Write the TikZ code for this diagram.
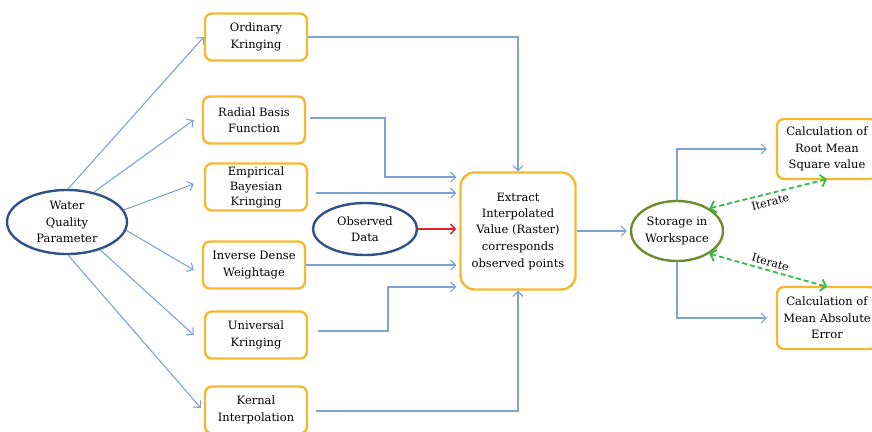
\documentclass[tikz,border=0pt]{standalone}
\usepackage{fontspec}
\setmainfont{DejaVu Serif}
\usepackage{xcolor}
\usepackage{tikz}
\usetikzlibrary{shapes, arrows.meta, positioning, calc}

\definecolor{boxorange}{HTML}{F6B830}
\definecolor{linkblue}{HTML}{7DA3D6}
\definecolor{ovalblue}{HTML}{2F5289}
\definecolor{ovalgreen}{HTML}{6E8B2E}
\definecolor{iterred}{HTML}{E62424}
\definecolor{itergreen}{HTML}{33BB4A}

\begin{document}
\begin{tikzpicture}[x=1pt, y=-1pt,
  box/.style={rectangle, draw=boxorange, line width=2.4pt, rounded corners=7pt, minimum width=102pt, minimum height=47pt, inner sep=0pt, align=center, font=\fontsize{11.5}{16.5}\selectfont},
  oval/.style={ellipse, draw=ovalblue, line width=2.4pt, inner sep=-3pt, align=center, font=\fontsize{11.5}{16.5}\selectfont},
  link/.style={draw=linkblue, line width=1.1pt, -{Straight Barb[length=5pt, width=10pt]}},
  iter/.style={draw=itergreen, line width=1.8pt, dash pattern=on 5pt off 3pt, {Straight Barb[length=5pt, width=12pt]}-{Straight Barb[length=5pt, width=12pt]}}]

\useasboundingbox (0,0) rectangle (872,431);

\node[oval, minimum width=120pt, minimum height=64pt] (water) at (67,222) {Water\\Quality\\Parameter};
\node[oval, minimum width=104pt, minimum height=52pt] (observed) at (365,229) {Observed\\Data};

\node[box] (ordinary) at (256,37) {Ordinary\\Kringing};
\node[box] (radial) at (254,120) {Radial Basis\\Function};
\node[box, font=\fontsize{11.5}{15}\selectfont] (empirical) at (256,187) {Empirical\\Bayesian\\Kringing};
\node[box] (inverse) at (254,265) {Inverse Dense\\Weightage};
\node[box] (universal) at (256,335) {Universal\\Kringing};
\node[box] (kernal) at (256,410) {Kernal\\Interpolation};

\node[box, rounded corners=14pt, minimum width=115pt, minimum height=117pt] (extract) at (518,231) {Extract\\Interpolated\\Value (Raster)\\corresponds\\observed points};
\node[oval, draw=ovalgreen, minimum width=92pt, minimum height=60pt] (storage) at (677,231) {Storage in\\Workspace};

\node[box, minimum width=100pt, minimum height=60pt] (rms) at (827,149) {Calculation of\\Root Mean\\Square value};
\node[box, minimum width=100pt, minimum height=62pt] (mae) at (827,318) {Calculation of\\Mean Absolute\\Error};

\coordinate (radbend) at (385,177);
\coordinate (empout) at (316,193);
\coordinate (unibend) at (388,287);

\draw[link] (water.88) -- (ordinary.west);
\draw[link] (water.48) -- ($(radial.west)+(-8,0)$);
\draw[link] (water.12) -- ($(empirical.west)+(-10,-3)$);
\draw[link] (water.-8) -- ($(inverse.west)+(-8,5)$);
\draw[link] (water.-40) -- ($(universal.west)+(-10,0)$);
\draw[link] (water.-88) -- ($(kernal.west)+(-3,-2)$);

\draw[link] (ordinary.east) -- (ordinary.east -| extract.north) -- (extract.north);
\draw[link, shorten >=3pt] ($(radial.east)+(4,-2)$) -| (radbend) -- (radbend -| extract.west);
\draw[link, shorten >=3pt] (empout) -- (empout -| extract.west);
\draw[-{Straight Barb[length=5pt, width=10pt]}, draw=iterred, line width=1.4pt, shorten >=3pt] (observed.east) -- (observed.east -| extract.west);
\draw[link, shorten >=3pt] (inverse.east) -- (inverse.east -| extract.west);
\draw[link, shorten >=3pt] ($(universal.east)+(10,-4)$) -| (unibend) -- (unibend -| extract.west);
\draw[link] ($(kernal.east)+(8,1)$) -| (extract.south);

\draw[link, shorten >=3pt] (extract.east) -- (storage.west);
\draw[link, shorten >=9pt] (storage.north) |- (rms.west);
\draw[link, shorten >=9pt] (storage.south) |- (mae.west);

\draw[iter] (storage.35) -- ($(rms.south)+(0,-1)$) node[midway, sloped, below, font=\fontsize{11}{12}\selectfont] {Iterate};
\draw[iter] (storage.-35) -- ($(mae.north)+(0,1)$) node[midway, sloped, above, font=\fontsize{11}{12}\selectfont] {Iterate};

\end{tikzpicture}
\end{document}
